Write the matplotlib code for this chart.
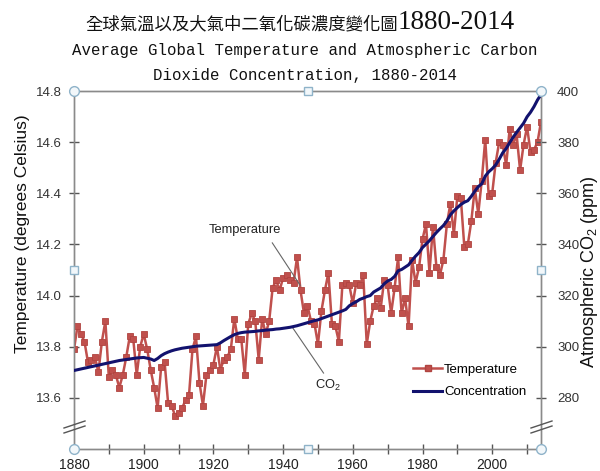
import matplotlib
matplotlib.use('Agg')
import matplotlib.pyplot as plt
from matplotlib.lines import Line2D

plt.rcParams['font.family'] = ['Liberation Sans', 'DejaVu Sans']
plt.rcParams['mathtext.fontset'] = 'custom'
plt.rcParams['mathtext.rm'] = 'Liberation Sans'
plt.rcParams['mathtext.it'] = 'Liberation Sans:italic'

# ---------------- data ----------------
years = list(range(1880, 2015))

temperature = [
    13.79, 13.88, 13.85, 13.82, 13.74, 13.75, 13.76, 13.70, 13.82, 13.90,  # 1880s
    13.68, 13.71, 13.69, 13.64, 13.69, 13.76, 13.84, 13.83, 13.69, 13.80,  # 1890s
    13.85, 13.79, 13.71, 13.64, 13.56, 13.72, 13.74, 13.58, 13.57, 13.53,  # 1900s
    13.54, 13.56, 13.59, 13.61, 13.79, 13.84, 13.66, 13.57, 13.69, 13.71,  # 1910s
    13.73, 13.80, 13.71, 13.75, 13.76, 13.79, 13.91, 13.83, 13.83, 13.69,  # 1920s
    13.89, 13.93, 13.90, 13.75, 13.91, 13.85, 13.90, 14.03, 14.06, 14.02,  # 1930s
    14.07, 14.08, 14.06, 14.05, 14.15, 14.02, 13.93, 13.96, 13.90, 13.89,  # 1940s
    13.81, 13.94, 14.02, 14.09, 13.89, 13.88, 13.82, 14.04, 14.05, 14.04,  # 1950s
    13.97, 14.05, 14.04, 14.08, 13.81, 13.90, 13.96, 13.99, 13.95, 14.06,  # 1960s
    14.04, 13.93, 14.03, 14.15, 13.93, 13.99, 13.88, 14.14, 14.05, 14.11,  # 1970s
    14.22, 14.28, 14.09, 14.27, 14.11, 14.08, 14.14, 14.28, 14.36, 14.24,  # 1980s
    14.39, 14.38, 14.19, 14.20, 14.29, 14.42, 14.32, 14.45, 14.61, 14.39,  # 1990s
    14.40, 14.52, 14.60, 14.59, 14.51, 14.65, 14.59, 14.63, 14.49, 14.59,  # 2000s
    14.66, 14.56, 14.57, 14.60, 14.68,                                      # 2010-2014
]

co2 = [
    290.7, 291.0, 291.3, 291.6, 291.9, 292.2, 292.5, 292.8, 293.1, 293.4,  # 1880s
    293.7, 294.0, 294.3, 294.6, 294.8, 295.0, 295.2, 295.4, 295.6, 295.7,  # 1890s
    295.8, 295.5, 295.2, 294.6, 295.4, 296.5, 297.3, 297.9, 298.4, 298.8,  # 1900s
    299.1, 299.4, 299.6, 299.8, 300.0, 300.2, 300.3, 300.4, 300.5, 300.6,  # 1910s
    300.7, 300.8, 301.5, 302.4, 303.2, 304.0, 304.7, 305.2, 305.5, 305.7,  # 1920s
    305.8, 305.9, 306.0, 306.2, 306.3, 306.5, 306.6, 306.7, 306.9, 307.0,  # 1930s
    307.2, 307.4, 307.6, 307.9, 308.2, 308.6, 309.0, 309.4, 309.8, 310.2,  # 1940s
    310.5, 311.0, 311.5, 312.0, 312.5, 313.0, 313.5, 314.0, 314.6, 316.0,  # 1950s
    316.9, 317.6, 318.5, 319.0, 319.6, 320.0, 321.4, 322.2, 323.0, 324.6,  # 1960s
    325.7, 326.3, 327.5, 329.7, 330.2, 331.1, 332.0, 333.8, 335.4, 336.8,  # 1970s
    338.8, 340.1, 341.5, 343.1, 344.7, 346.1, 347.4, 349.2, 351.6, 353.1,  # 1980s
    354.4, 355.6, 356.5, 357.1, 358.8, 360.8, 362.6, 363.7, 366.7, 368.4,  # 1990s
    369.6, 371.1, 373.3, 375.8, 377.5, 379.8, 381.9, 383.8, 385.6, 387.4,  # 2000s
    389.9, 391.7, 393.9, 396.5, 398.6,                                      # 2010-2014
]

temp_ticks = [13.6, 13.8, 14.0, 14.2, 14.4, 14.6, 14.8]
co2_ticks = [280, 300, 320, 340, 360, 380, 400]
year_ticks = [1880, 1900, 1920, 1940, 1960, 1980, 2000]
year_minor = [1890, 1910, 1930, 1950, 1970, 1990, 2010]

title_zh = '全球氣溫以及大氣中二氧化碳濃度變化圖'
title_years = '1880-2014'
subtitle1 = 'Average Global Temperature and Atmospheric Carbon'
subtitle2 = 'Dioxide Concentration, 1880-2014'

# ---------------- style ----------------
TEMP_C = '#c0504d'
CO2_C = '#12126e'
AXIS_C = '#8a8a8a'
HANDLE_EDGE = '#8fb3c9'
HANDLE_FACE = '#f2f7fa'

W, H = 600, 471
fig = plt.figure(figsize=(W / 100, H / 100), dpi=100)
L, R, T, B = 74, 541, 91, 449
ax = fig.add_axes([L / W, 1 - B / H, (R - L) / W, (B - T) / H])
ax2 = ax.twinx()

ax.plot(years, temperature, color=TEMP_C, lw=1.8, marker='s', ms=5.0,
        mfc=TEMP_C, mec='#b04440', mew=0.6, zorder=3)
ax2.plot(years, co2, color=CO2_C, lw=2.2, zorder=4)

ax.set_xlim(1880, 2014)
ax.set_ylim(13.4, 14.8)
ax2.set_ylim(260, 400)

ax.set_xticks(year_ticks)
ax.set_xticks(year_minor, minor=True)
ax.set_xticklabels([str(y) for y in year_ticks])
ax.set_yticks(temp_ticks)
ax.set_yticklabels(['%.1f' % t for t in temp_ticks])
ax2.set_yticks(co2_ticks)
ax2.set_yticklabels([str(c) for c in co2_ticks])

for a in (ax, ax2):
    for s in a.spines.values():
        s.set_color(AXIS_C)
        s.set_linewidth(1.0)
ax.tick_params(axis='x', which='both', direction='inout', length=7, width=1,
               color='#555555', labelsize=10, pad=3, labelcolor='#222222')
ax.tick_params(axis='y', direction='inout', length=7, width=1,
               color='#555555', labelsize=9.5, pad=5, labelcolor='#333333')
ax2.tick_params(axis='y', direction='inout', length=7, width=1,
                color='#555555', labelsize=9.5, pad=8, labelcolor='#333333')

# axis breaks
def ax_pt(px, py):
    return ((px - L) / (R - L), (B - py) / (B - T))

for xoff in (0, R - L):
    for yoff in (0, 5):
        x0, y0 = ax_pt(64 + xoff, 428 + yoff)
        x1, y1 = ax_pt(85 + xoff, 421 + yoff)
        ax2.add_line(Line2D([x0, x1], [y0, y1], transform=ax2.transAxes,
                            color='#555555', lw=1.0, clip_on=False, zorder=6))

# selection handles
ax2.plot([0, 1, 0, 1], [0, 0, 1, 1], transform=ax2.transAxes, ls='none',
         marker='o', ms=7, mfc=HANDLE_FACE, mec=HANDLE_EDGE, mew=1,
         clip_on=False, zorder=10)
ax2.plot([0.5, 0.5, 0, 1], [0, 1, 0.5, 0.5], transform=ax2.transAxes, ls='none',
         marker='s', ms=5.5, mfc=HANDLE_FACE, mec=HANDLE_EDGE, mew=1,
         clip_on=False, zorder=10)

# annotations
ax.text(1929.1, 14.257, 'Temperature', ha='center', va='center', fontsize=9.3,
        color='#222222')
ax.plot([1936.9, 1944.9], [14.206, 14.040], color='#666666', lw=0.8, zorder=5)
ax.text(1953.0, 13.65, 'CO$_2$', ha='center', va='center', fontsize=9.3,
        color='#222222')
ax.plot([1942.6, 1951.6], [13.877, 13.697], color='#666666', lw=0.8, zorder=5)

# legend
handles = [Line2D([], [], color=TEMP_C, lw=1.8, marker='s', ms=5.0,
                  mfc=TEMP_C, mec='#b04440'),
           Line2D([], [], color=CO2_C, lw=2.2)]
ax2.legend(handles, ['Temperature', 'Concentration'], loc='center left',
           bbox_to_anchor=(0.726, 0.19), frameon=False, fontsize=9.5,
           handlelength=2.2, handletextpad=0.15, labelspacing=0.75,
           borderpad=0, borderaxespad=0)

# axis labels
fig.text(23 / W, 1 - 234 / H, 'Temperature (degrees Celsius)', rotation=90,
         ha='center', va='center', fontsize=12.5, color='#111111')
fig.text(590 / W, 1 - 272 / H, 'Atmospheric CO$_2$ (ppm)', rotation=90,
         ha='center', va='center', fontsize=13, color='#111111')

# titles
fig.text(398 / W, 1 - 29 / H, title_zh, ha='right', va='baseline',
         fontsize=12.5, family=['Noto Sans CJK TC', 'DejaVu Sans'], color='#111111')
fig.text(398 / W, 1 - 29 / H, title_years, ha='left', va='baseline',
         fontsize=19.5, family='Liberation Serif', color='#111111')
fig.text(305 / W, 1 - 55 / H, subtitle1, ha='center', va='baseline',
         fontsize=11.3, family='Liberation Mono', color='#111111')
fig.text(305 / W, 1 - 80 / H, subtitle2, ha='center', va='baseline',
         fontsize=11.3, family='Liberation Mono', color='#111111')

fig.savefig('out.png', dpi=100)
